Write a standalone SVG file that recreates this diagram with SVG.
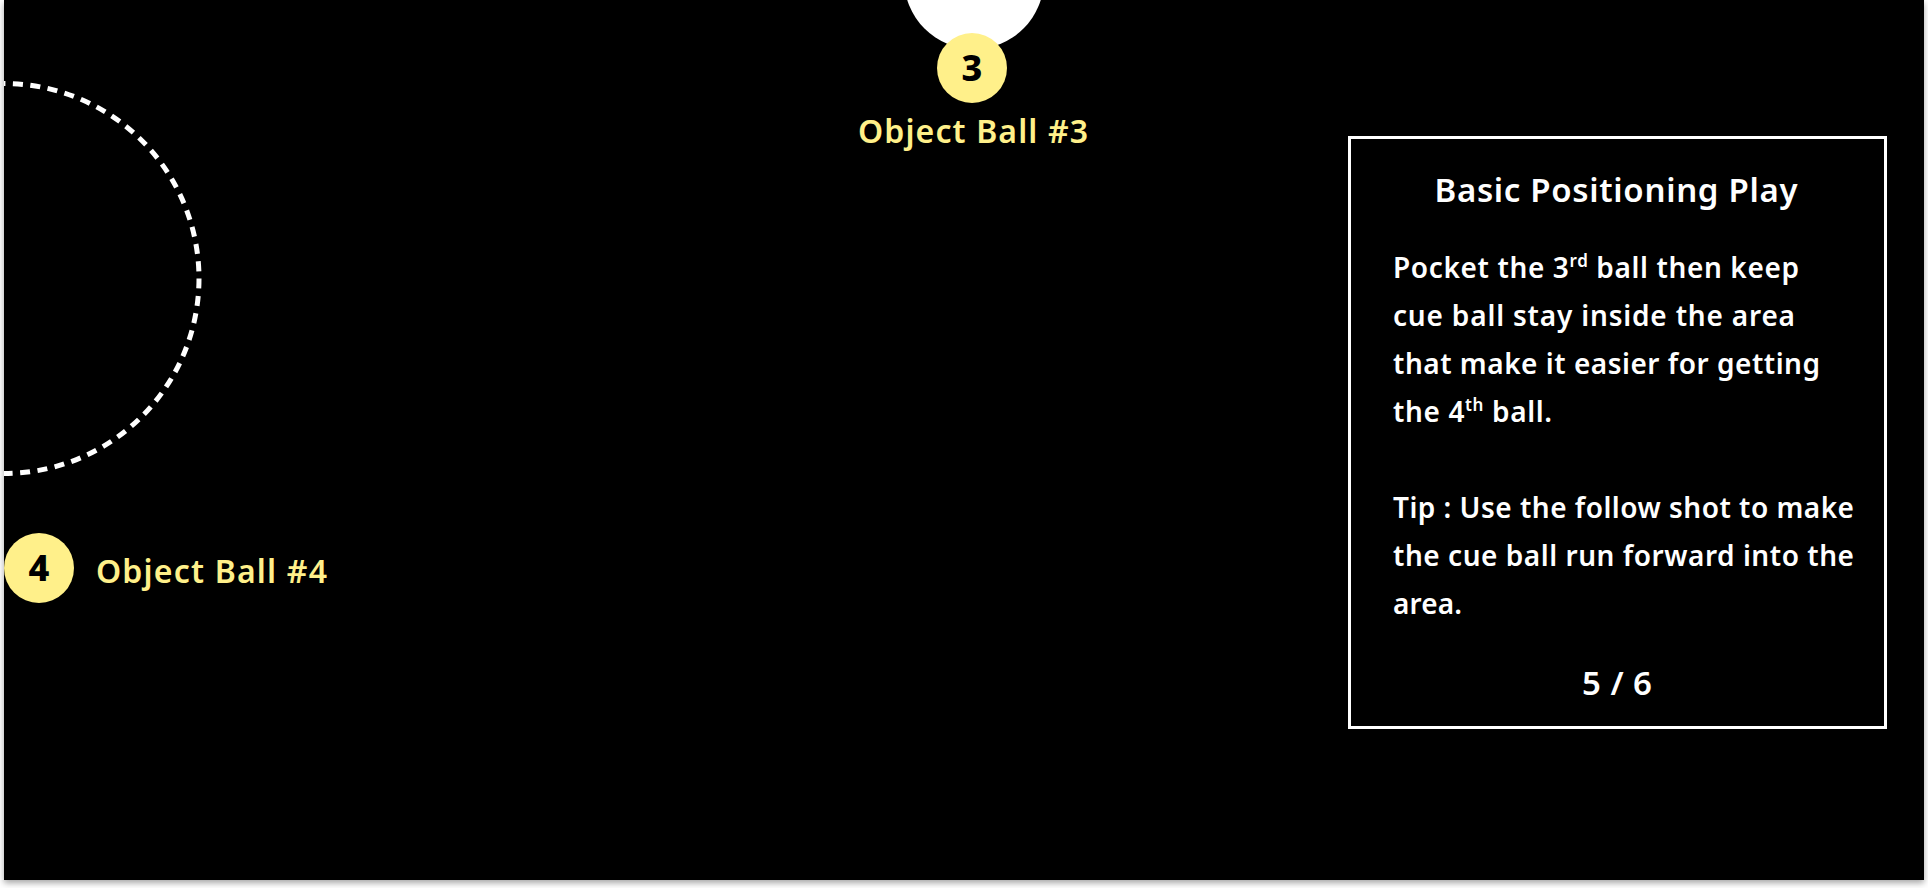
<svg xmlns="http://www.w3.org/2000/svg" width="1928" height="888" viewBox="0 0 1928 888">
  <defs>
    <filter id="shadow" x="-5%" y="-5%" width="110%" height="115%">
      <feDropShadow dx="0" dy="3" stdDeviation="3" flood-color="#000" flood-opacity="0.35"/>
    </filter>
    <clipPath id="board">
      <rect x="4" y="0" width="1920" height="880"/>
    </clipPath>
  </defs>
  <style>
    .ball { fill: #fff08a; }
    .num { font-family: "Noto Sans", "Open Sans", sans-serif; font-weight: 800; font-size: 36px; fill: #000; text-anchor: middle; }
    .lbl { font-family: "Noto Sans", "Open Sans", sans-serif; font-weight: 600; font-size: 32px; fill: #fff08a; }
    .title { font-family: "Noto Sans", "Open Sans", sans-serif; font-weight: 600; font-size: 33px; fill: #fff; text-anchor: middle; }
    .body { font-family: "Noto Sans", "Open Sans", sans-serif; font-weight: 600; font-size: 28px; fill: #fff; }
    .sup { font-size: 17px; }
    .page { font-family: "Noto Sans", "Open Sans", sans-serif; font-weight: 600; font-size: 33px; fill: #fff; text-anchor: middle; }
  </style>
  <rect x="0" y="0" width="1928" height="888" fill="#ffffff"/>
  <rect x="4" y="0" width="1920" height="880" fill="#000" filter="url(#shadow)"/>
  <g clip-path="url(#board)">
    <g id="cue-ball">
      <circle cx="974" cy="-21" r="70" fill="#fff"/>
    </g>
    <g id="target-area">
      <circle cx="4" cy="278.5" r="195" fill="none" stroke="#fff" stroke-width="5" stroke-dasharray="10 7.5"/>
    </g>
    <g id="ball-3">
      <circle class="ball" cx="972" cy="68" r="35"/>
      <text class="num" x="972" y="81">3</text>
      <text class="lbl" x="973" y="143" text-anchor="middle" textLength="230">Object Ball #3</text>
    </g>
    <g id="ball-4">
      <circle class="ball" cx="39" cy="568" r="35"/>
      <text class="num" x="39" y="581">4</text>
      <text class="lbl" x="96" y="583" textLength="231">Object Ball #4</text>
    </g>
    <g id="info-panel">
      <rect x="1349.5" y="137.5" width="536" height="590" fill="none" stroke="#fff" stroke-width="3"/>
      <text class="title" x="1616" y="202" textLength="363">Basic Positioning Play</text>
      <text class="body" x="1393" y="278" textLength="406">Pocket the 3<tspan class="sup" dy="-11">rd</tspan><tspan dy="11"> ball then keep</tspan></text>
      <text class="body" x="1393" y="326" textLength="402">cue ball stay inside the area</text>
      <text class="body" x="1393" y="374" textLength="427">that make it easier for getting</text>
      <text class="body" x="1393" y="422" textLength="159">the 4<tspan class="sup" dy="-11">th</tspan><tspan dy="11"> ball.</tspan></text>
      <text class="body" x="1393" y="518" textLength="461">Tip : Use the follow shot to make</text>
      <text class="body" x="1393" y="566" textLength="461">the cue ball run forward into the</text>
      <text class="body" x="1393" y="614" textLength="69">area.</text>
      <text class="page" x="1617" y="695" textLength="70">5 / 6</text>
    </g>
  </g>
</svg>
